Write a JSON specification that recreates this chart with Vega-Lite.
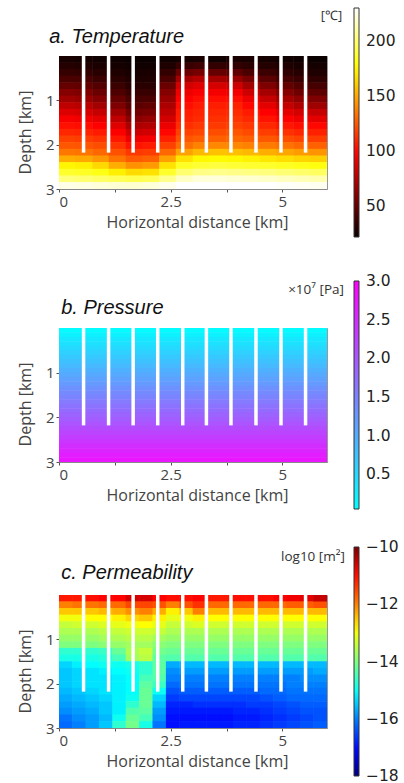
{"$schema":"https://vega.github.io/schema/vega-lite/v6.json","padding":{"left":16,"top":7,"right":0,"bottom":0},"background":"white","spacing":35,"resolve":{"scale":{"color":"independent"},"legend":{"color":"independent"}},
"datasets":{
"wells":[{"x":0.55,"y":0,"y2":2.18},{"x":1.11,"y":0,"y2":2.18},{"x":1.66,"y":0,"y2":2.18},{"x":2.21,"y":0,"y2":2.18},{"x":2.77,"y":0,"y2":2.18},{"x":3.3,"y":0,"y2":2.18},{"x":3.85,"y":0,"y2":2.18},{"x":4.41,"y":0,"y2":2.18},{"x":4.97,"y":0,"y2":2.18},{"x":5.52,"y":0,"y2":2.18}],
"temp":[
{"x":0.19,"y":0.075,"v":26},{"x":0.19,"y":0.225,"v":30},{"x":0.19,"y":0.375,"v":35},{"x":0.19,"y":0.525,"v":42},{"x":0.19,"y":0.675,"v":50},{"x":0.19,"y":0.825,"v":60},{"x":0.19,"y":0.975,"v":68},{"x":0.19,"y":1.125,"v":78},{"x":0.19,"y":1.275,"v":87},{"x":0.19,"y":1.425,"v":96},{"x":0.19,"y":1.575,"v":103},{"x":0.19,"y":1.725,"v":110},{"x":0.19,"y":1.875,"v":118},{"x":0.19,"y":2.025,"v":125},{"x":0.19,"y":2.175,"v":135},{"x":0.19,"y":2.325,"v":152},{"x":0.19,"y":2.475,"v":174},{"x":0.19,"y":2.625,"v":186},{"x":0.19,"y":2.775,"v":202},{"x":0.19,"y":2.925,"v":225},
{"x":0.56,"y":0.075,"v":25},{"x":0.56,"y":0.225,"v":29},{"x":0.56,"y":0.375,"v":34},{"x":0.56,"y":0.525,"v":41},{"x":0.56,"y":0.675,"v":49},{"x":0.56,"y":0.825,"v":58},{"x":0.56,"y":0.975,"v":66},{"x":0.56,"y":1.125,"v":76},{"x":0.56,"y":1.275,"v":85},{"x":0.56,"y":1.425,"v":94},{"x":0.56,"y":1.575,"v":102},{"x":0.56,"y":1.725,"v":109},{"x":0.56,"y":1.875,"v":117},{"x":0.56,"y":2.025,"v":124},{"x":0.56,"y":2.175,"v":134},{"x":0.56,"y":2.325,"v":150},{"x":0.56,"y":2.475,"v":172},{"x":0.56,"y":2.625,"v":185},{"x":0.56,"y":2.775,"v":200},{"x":0.56,"y":2.925,"v":224},
{"x":0.94,"y":0.075,"v":24},{"x":0.94,"y":0.225,"v":27},{"x":0.94,"y":0.375,"v":31},{"x":0.94,"y":0.525,"v":37},{"x":0.94,"y":0.675,"v":44},{"x":0.94,"y":0.825,"v":52},{"x":0.94,"y":0.975,"v":60},{"x":0.94,"y":1.125,"v":70},{"x":0.94,"y":1.275,"v":80},{"x":0.94,"y":1.425,"v":90},{"x":0.94,"y":1.575,"v":98},{"x":0.94,"y":1.725,"v":106},{"x":0.94,"y":1.875,"v":114},{"x":0.94,"y":2.025,"v":122},{"x":0.94,"y":2.175,"v":130},{"x":0.94,"y":2.325,"v":145},{"x":0.94,"y":2.475,"v":165},{"x":0.94,"y":2.625,"v":181},{"x":0.94,"y":2.775,"v":198},{"x":0.94,"y":2.925,"v":222},
{"x":1.31,"y":0.075,"v":23},{"x":1.31,"y":0.225,"v":25},{"x":1.31,"y":0.375,"v":28},{"x":1.31,"y":0.525,"v":32},{"x":1.31,"y":0.675,"v":37},{"x":1.31,"y":0.825,"v":43},{"x":1.31,"y":0.975,"v":50},{"x":1.31,"y":1.125,"v":58},{"x":1.31,"y":1.275,"v":68},{"x":1.31,"y":1.425,"v":78},{"x":1.31,"y":1.575,"v":88},{"x":1.31,"y":1.725,"v":97},{"x":1.31,"y":1.875,"v":105},{"x":1.31,"y":2.025,"v":114},{"x":1.31,"y":2.175,"v":123},{"x":1.31,"y":2.325,"v":134},{"x":1.31,"y":2.475,"v":152},{"x":1.31,"y":2.625,"v":172},{"x":1.31,"y":2.775,"v":195},{"x":1.31,"y":2.925,"v":221},
{"x":1.69,"y":0.075,"v":22},{"x":1.69,"y":0.225,"v":24},{"x":1.69,"y":0.375,"v":26},{"x":1.69,"y":0.525,"v":28},{"x":1.69,"y":0.675,"v":31},{"x":1.69,"y":0.825,"v":36},{"x":1.69,"y":0.975,"v":41},{"x":1.69,"y":1.125,"v":47},{"x":1.69,"y":1.275,"v":54},{"x":1.69,"y":1.425,"v":62},{"x":1.69,"y":1.575,"v":72},{"x":1.69,"y":1.725,"v":82},{"x":1.69,"y":1.875,"v":93},{"x":1.69,"y":2.025,"v":104},{"x":1.69,"y":2.175,"v":115},{"x":1.69,"y":2.325,"v":126},{"x":1.69,"y":2.475,"v":143},{"x":1.69,"y":2.625,"v":166},{"x":1.69,"y":2.775,"v":193},{"x":1.69,"y":2.925,"v":220},
{"x":2.06,"y":0.075,"v":22},{"x":2.06,"y":0.225,"v":24},{"x":2.06,"y":0.375,"v":26},{"x":2.06,"y":0.525,"v":28},{"x":2.06,"y":0.675,"v":31},{"x":2.06,"y":0.825,"v":36},{"x":2.06,"y":0.975,"v":42},{"x":2.06,"y":1.125,"v":49},{"x":2.06,"y":1.275,"v":56},{"x":2.06,"y":1.425,"v":65},{"x":2.06,"y":1.575,"v":74},{"x":2.06,"y":1.725,"v":84},{"x":2.06,"y":1.875,"v":95},{"x":2.06,"y":2.025,"v":106},{"x":2.06,"y":2.175,"v":117},{"x":2.06,"y":2.325,"v":128},{"x":2.06,"y":2.475,"v":146},{"x":2.06,"y":2.625,"v":168},{"x":2.06,"y":2.775,"v":195},{"x":2.06,"y":2.925,"v":222},
{"x":2.44,"y":0.075,"v":24},{"x":2.44,"y":0.225,"v":28},{"x":2.44,"y":0.375,"v":34},{"x":2.44,"y":0.525,"v":42},{"x":2.44,"y":0.675,"v":52},{"x":2.44,"y":0.825,"v":60},{"x":2.44,"y":0.975,"v":66},{"x":2.44,"y":1.125,"v":72},{"x":2.44,"y":1.275,"v":78},{"x":2.44,"y":1.425,"v":84},{"x":2.44,"y":1.575,"v":92},{"x":2.44,"y":1.725,"v":100},{"x":2.44,"y":1.875,"v":108},{"x":2.44,"y":2.025,"v":118},{"x":2.44,"y":2.175,"v":130},{"x":2.44,"y":2.325,"v":148},{"x":2.44,"y":2.475,"v":168},{"x":2.44,"y":2.625,"v":186},{"x":2.44,"y":2.775,"v":206},{"x":2.44,"y":2.925,"v":226},
{"x":2.81,"y":0.075,"v":25},{"x":2.81,"y":0.225,"v":36},{"x":2.81,"y":0.375,"v":52},{"x":2.81,"y":0.525,"v":70},{"x":2.81,"y":0.675,"v":84},{"x":2.81,"y":0.825,"v":92},{"x":2.81,"y":0.975,"v":98},{"x":2.81,"y":1.125,"v":102},{"x":2.81,"y":1.275,"v":106},{"x":2.81,"y":1.425,"v":108},{"x":2.81,"y":1.575,"v":112},{"x":2.81,"y":1.725,"v":118},{"x":2.81,"y":1.875,"v":124},{"x":2.81,"y":2.025,"v":132},{"x":2.81,"y":2.175,"v":148},{"x":2.81,"y":2.325,"v":168},{"x":2.81,"y":2.475,"v":185},{"x":2.81,"y":2.625,"v":200},{"x":2.81,"y":2.775,"v":218},{"x":2.81,"y":2.925,"v":230},
{"x":3.19,"y":0.075,"v":26},{"x":3.19,"y":0.225,"v":38},{"x":3.19,"y":0.375,"v":55},{"x":3.19,"y":0.525,"v":75},{"x":3.19,"y":0.675,"v":88},{"x":3.19,"y":0.825,"v":96},{"x":3.19,"y":0.975,"v":102},{"x":3.19,"y":1.125,"v":106},{"x":3.19,"y":1.275,"v":109},{"x":3.19,"y":1.425,"v":111},{"x":3.19,"y":1.575,"v":115},{"x":3.19,"y":1.725,"v":120},{"x":3.19,"y":1.875,"v":127},{"x":3.19,"y":2.025,"v":138},{"x":3.19,"y":2.175,"v":155},{"x":3.19,"y":2.325,"v":175},{"x":3.19,"y":2.475,"v":188},{"x":3.19,"y":2.625,"v":205},{"x":3.19,"y":2.775,"v":222},{"x":3.19,"y":2.925,"v":230},
{"x":3.56,"y":0.075,"v":24},{"x":3.56,"y":0.225,"v":34},{"x":3.56,"y":0.375,"v":50},{"x":3.56,"y":0.525,"v":70},{"x":3.56,"y":0.675,"v":85},{"x":3.56,"y":0.825,"v":95},{"x":3.56,"y":0.975,"v":102},{"x":3.56,"y":1.125,"v":107},{"x":3.56,"y":1.275,"v":110},{"x":3.56,"y":1.425,"v":113},{"x":3.56,"y":1.575,"v":116},{"x":3.56,"y":1.725,"v":122},{"x":3.56,"y":1.875,"v":128},{"x":3.56,"y":2.025,"v":140},{"x":3.56,"y":2.175,"v":158},{"x":3.56,"y":2.325,"v":176},{"x":3.56,"y":2.475,"v":190},{"x":3.56,"y":2.625,"v":206},{"x":3.56,"y":2.775,"v":222},{"x":3.56,"y":2.925,"v":230},
{"x":3.94,"y":0.075,"v":26},{"x":3.94,"y":0.225,"v":34},{"x":3.94,"y":0.375,"v":48},{"x":3.94,"y":0.525,"v":66},{"x":3.94,"y":0.675,"v":82},{"x":3.94,"y":0.825,"v":94},{"x":3.94,"y":0.975,"v":102},{"x":3.94,"y":1.125,"v":108},{"x":3.94,"y":1.275,"v":111},{"x":3.94,"y":1.425,"v":114},{"x":3.94,"y":1.575,"v":118},{"x":3.94,"y":1.725,"v":124},{"x":3.94,"y":1.875,"v":130},{"x":3.94,"y":2.025,"v":140},{"x":3.94,"y":2.175,"v":157},{"x":3.94,"y":2.325,"v":175},{"x":3.94,"y":2.475,"v":188},{"x":3.94,"y":2.625,"v":205},{"x":3.94,"y":2.775,"v":221},{"x":3.94,"y":2.925,"v":230},
{"x":4.31,"y":0.075,"v":26},{"x":4.31,"y":0.225,"v":32},{"x":4.31,"y":0.375,"v":42},{"x":4.31,"y":0.525,"v":56},{"x":4.31,"y":0.675,"v":70},{"x":4.31,"y":0.825,"v":82},{"x":4.31,"y":0.975,"v":92},{"x":4.31,"y":1.125,"v":100},{"x":4.31,"y":1.275,"v":106},{"x":4.31,"y":1.425,"v":110},{"x":4.31,"y":1.575,"v":115},{"x":4.31,"y":1.725,"v":121},{"x":4.31,"y":1.875,"v":128},{"x":4.31,"y":2.025,"v":138},{"x":4.31,"y":2.175,"v":155},{"x":4.31,"y":2.325,"v":173},{"x":4.31,"y":2.475,"v":187},{"x":4.31,"y":2.625,"v":204},{"x":4.31,"y":2.775,"v":220},{"x":4.31,"y":2.925,"v":230},
{"x":4.69,"y":0.075,"v":25},{"x":4.69,"y":0.225,"v":30},{"x":4.69,"y":0.375,"v":37},{"x":4.69,"y":0.525,"v":47},{"x":4.69,"y":0.675,"v":58},{"x":4.69,"y":0.825,"v":70},{"x":4.69,"y":0.975,"v":80},{"x":4.69,"y":1.125,"v":90},{"x":4.69,"y":1.275,"v":98},{"x":4.69,"y":1.425,"v":104},{"x":4.69,"y":1.575,"v":110},{"x":4.69,"y":1.725,"v":117},{"x":4.69,"y":1.875,"v":125},{"x":4.69,"y":2.025,"v":136},{"x":4.69,"y":2.175,"v":152},{"x":4.69,"y":2.325,"v":170},{"x":4.69,"y":2.475,"v":186},{"x":4.69,"y":2.625,"v":203},{"x":4.69,"y":2.775,"v":219},{"x":4.69,"y":2.925,"v":230},
{"x":5.06,"y":0.075,"v":24},{"x":5.06,"y":0.225,"v":28},{"x":5.06,"y":0.375,"v":33},{"x":5.06,"y":0.525,"v":40},{"x":5.06,"y":0.675,"v":50},{"x":5.06,"y":0.825,"v":60},{"x":5.06,"y":0.975,"v":70},{"x":5.06,"y":1.125,"v":80},{"x":5.06,"y":1.275,"v":90},{"x":5.06,"y":1.425,"v":98},{"x":5.06,"y":1.575,"v":105},{"x":5.06,"y":1.725,"v":113},{"x":5.06,"y":1.875,"v":122},{"x":5.06,"y":2.025,"v":133},{"x":5.06,"y":2.175,"v":149},{"x":5.06,"y":2.325,"v":167},{"x":5.06,"y":2.475,"v":184},{"x":5.06,"y":2.625,"v":201},{"x":5.06,"y":2.775,"v":217},{"x":5.06,"y":2.925,"v":229},
{"x":5.44,"y":0.075,"v":23},{"x":5.44,"y":0.225,"v":26},{"x":5.44,"y":0.375,"v":30},{"x":5.44,"y":0.525,"v":36},{"x":5.44,"y":0.675,"v":44},{"x":5.44,"y":0.825,"v":53},{"x":5.44,"y":0.975,"v":63},{"x":5.44,"y":1.125,"v":73},{"x":5.44,"y":1.275,"v":84},{"x":5.44,"y":1.425,"v":93},{"x":5.44,"y":1.575,"v":102},{"x":5.44,"y":1.725,"v":110},{"x":5.44,"y":1.875,"v":119},{"x":5.44,"y":2.025,"v":130},{"x":5.44,"y":2.175,"v":146},{"x":5.44,"y":2.325,"v":164},{"x":5.44,"y":2.475,"v":182},{"x":5.44,"y":2.625,"v":199},{"x":5.44,"y":2.775,"v":215},{"x":5.44,"y":2.925,"v":228},
{"x":5.81,"y":0.075,"v":22},{"x":5.81,"y":0.225,"v":25},{"x":5.81,"y":0.375,"v":28},{"x":5.81,"y":0.525,"v":33},{"x":5.81,"y":0.675,"v":40},{"x":5.81,"y":0.825,"v":48},{"x":5.81,"y":0.975,"v":58},{"x":5.81,"y":1.125,"v":68},{"x":5.81,"y":1.275,"v":80},{"x":5.81,"y":1.425,"v":90},{"x":5.81,"y":1.575,"v":100},{"x":5.81,"y":1.725,"v":108},{"x":5.81,"y":1.875,"v":117},{"x":5.81,"y":2.025,"v":128},{"x":5.81,"y":2.175,"v":144},{"x":5.81,"y":2.325,"v":162},{"x":5.81,"y":2.475,"v":180},{"x":5.81,"y":2.625,"v":197},{"x":5.81,"y":2.775,"v":213},{"x":5.81,"y":2.925,"v":227}
],
"pres":[{"x":3,"y":0.05,"v":0.1},{"x":3,"y":0.15,"v":0.2},{"x":3,"y":0.25,"v":0.3},{"x":3,"y":0.35,"v":0.39},{"x":3,"y":0.45,"v":0.48},{"x":3,"y":0.55,"v":0.58},{"x":3,"y":0.65,"v":0.67},{"x":3,"y":0.75,"v":0.76},{"x":3,"y":0.85,"v":0.86},{"x":3,"y":0.95,"v":0.95},{"x":3,"y":1.05,"v":1.04},{"x":3,"y":1.15,"v":1.13},{"x":3,"y":1.25,"v":1.22},{"x":3,"y":1.35,"v":1.31},{"x":3,"y":1.45,"v":1.4},{"x":3,"y":1.55,"v":1.49},{"x":3,"y":1.65,"v":1.58},{"x":3,"y":1.75,"v":1.67},{"x":3,"y":1.85,"v":1.76},{"x":3,"y":1.95,"v":1.85},{"x":3,"y":2.05,"v":1.94},{"x":3,"y":2.15,"v":2.03},{"x":3,"y":2.25,"v":2.12},{"x":3,"y":2.35,"v":2.21},{"x":3,"y":2.45,"v":2.3},{"x":3,"y":2.55,"v":2.39},{"x":3,"y":2.65,"v":2.48},{"x":3,"y":2.75,"v":2.57},{"x":3,"y":2.85,"v":2.66},{"x":3,"y":2.95,"v":2.75}],
"perm":[
{"x":0.15,"y":0.075,"v":-11.1},{"x":0.15,"y":0.225,"v":-12},{"x":0.15,"y":0.375,"v":-12.5},{"x":0.15,"y":0.525,"v":-13},{"x":0.15,"y":0.675,"v":-13.4},{"x":0.15,"y":0.825,"v":-13.6},{"x":0.15,"y":0.975,"v":-13.8},{"x":0.15,"y":1.125,"v":-14},{"x":0.15,"y":1.275,"v":-14.7},{"x":0.15,"y":1.425,"v":-14.9},{"x":0.15,"y":1.575,"v":-15.4},{"x":0.15,"y":1.725,"v":-15.5},{"x":0.15,"y":1.875,"v":-15.5},{"x":0.15,"y":2.025,"v":-15.5},{"x":0.15,"y":2.175,"v":-15.6},{"x":0.15,"y":2.325,"v":-15.7},{"x":0.15,"y":2.475,"v":-15.8},{"x":0.15,"y":2.625,"v":-15.9},{"x":0.15,"y":2.775,"v":-16.1},{"x":0.15,"y":2.925,"v":-16.2},
{"x":0.45,"y":0.075,"v":-11.1},{"x":0.45,"y":0.225,"v":-11.9},{"x":0.45,"y":0.375,"v":-12.5},{"x":0.45,"y":0.525,"v":-13},{"x":0.45,"y":0.675,"v":-13.3},{"x":0.45,"y":0.825,"v":-13.6},{"x":0.45,"y":0.975,"v":-13.8},{"x":0.45,"y":1.125,"v":-14},{"x":0.45,"y":1.275,"v":-14.7},{"x":0.45,"y":1.425,"v":-14.9},{"x":0.45,"y":1.575,"v":-15.2},{"x":0.45,"y":1.725,"v":-15.4},{"x":0.45,"y":1.875,"v":-15.4},{"x":0.45,"y":2.025,"v":-15.4},{"x":0.45,"y":2.175,"v":-15.5},{"x":0.45,"y":2.325,"v":-15.6},{"x":0.45,"y":2.475,"v":-15.7},{"x":0.45,"y":2.625,"v":-15.8},{"x":0.45,"y":2.775,"v":-15.9},{"x":0.45,"y":2.925,"v":-16},
{"x":0.75,"y":0.075,"v":-11},{"x":0.75,"y":0.225,"v":-11.9},{"x":0.75,"y":0.375,"v":-12.5},{"x":0.75,"y":0.525,"v":-12.9},{"x":0.75,"y":0.675,"v":-13.3},{"x":0.75,"y":0.825,"v":-13.6},{"x":0.75,"y":0.975,"v":-13.8},{"x":0.75,"y":1.125,"v":-14},{"x":0.75,"y":1.275,"v":-14.7},{"x":0.75,"y":1.425,"v":-14.9},{"x":0.75,"y":1.575,"v":-15.1},{"x":0.75,"y":1.725,"v":-15.3},{"x":0.75,"y":1.875,"v":-15.3},{"x":0.75,"y":2.025,"v":-15.3},{"x":0.75,"y":2.175,"v":-15.4},{"x":0.75,"y":2.325,"v":-15.5},{"x":0.75,"y":2.475,"v":-15.6},{"x":0.75,"y":2.625,"v":-15.7},{"x":0.75,"y":2.775,"v":-15.8},{"x":0.75,"y":2.925,"v":-15.8},
{"x":1.05,"y":0.075,"v":-10.9},{"x":1.05,"y":0.225,"v":-11.8},{"x":1.05,"y":0.375,"v":-12.4},{"x":1.05,"y":0.525,"v":-12.9},{"x":1.05,"y":0.675,"v":-13.2},{"x":1.05,"y":0.825,"v":-13.5},{"x":1.05,"y":0.975,"v":-13.7},{"x":1.05,"y":1.125,"v":-13.9},{"x":1.05,"y":1.275,"v":-14.6},{"x":1.05,"y":1.425,"v":-14.8},{"x":1.05,"y":1.575,"v":-15},{"x":1.05,"y":1.725,"v":-15.2},{"x":1.05,"y":1.875,"v":-15.3},{"x":1.05,"y":2.025,"v":-15.3},{"x":1.05,"y":2.175,"v":-15.3},{"x":1.05,"y":2.325,"v":-15.4},{"x":1.05,"y":2.475,"v":-15.5},{"x":1.05,"y":2.625,"v":-15.5},{"x":1.05,"y":2.775,"v":-15.6},{"x":1.05,"y":2.925,"v":-15.5},
{"x":1.35,"y":0.075,"v":-10.9},{"x":1.35,"y":0.225,"v":-11.8},{"x":1.35,"y":0.375,"v":-12.3},{"x":1.35,"y":0.525,"v":-12.8},{"x":1.35,"y":0.675,"v":-13.1},{"x":1.35,"y":0.825,"v":-13.4},{"x":1.35,"y":0.975,"v":-13.6},{"x":1.35,"y":1.125,"v":-13.8},{"x":1.35,"y":1.275,"v":-14.2},{"x":1.35,"y":1.425,"v":-14.5},{"x":1.35,"y":1.575,"v":-15},{"x":1.35,"y":1.725,"v":-15.1},{"x":1.35,"y":1.875,"v":-15.2},{"x":1.35,"y":2.025,"v":-15.2},{"x":1.35,"y":2.175,"v":-15.2},{"x":1.35,"y":2.325,"v":-15.2},{"x":1.35,"y":2.475,"v":-15.2},{"x":1.35,"y":2.625,"v":-15.2},{"x":1.35,"y":2.775,"v":-15},{"x":1.35,"y":2.925,"v":-14.7},
{"x":1.65,"y":0.075,"v":-10.6},{"x":1.65,"y":0.225,"v":-11.5},{"x":1.65,"y":0.375,"v":-12.1},{"x":1.65,"y":0.525,"v":-12.6},{"x":1.65,"y":0.675,"v":-13},{"x":1.65,"y":0.825,"v":-13.3},{"x":1.65,"y":0.975,"v":-13.5},{"x":1.65,"y":1.125,"v":-13.7},{"x":1.65,"y":1.275,"v":-13.6},{"x":1.65,"y":1.425,"v":-13.7},{"x":1.65,"y":1.575,"v":-14.9},{"x":1.65,"y":1.725,"v":-15},{"x":1.65,"y":1.875,"v":-15.1},{"x":1.65,"y":2.025,"v":-15.1},{"x":1.65,"y":2.175,"v":-15.1},{"x":1.65,"y":2.325,"v":-15},{"x":1.65,"y":2.475,"v":-14.7},{"x":1.65,"y":2.625,"v":-14.4},{"x":1.65,"y":2.775,"v":-14.2},{"x":1.65,"y":2.925,"v":-14.1},
{"x":1.95,"y":0.075,"v":-10.6},{"x":1.95,"y":0.225,"v":-11.5},{"x":1.95,"y":0.375,"v":-12},{"x":1.95,"y":0.525,"v":-12.5},{"x":1.95,"y":0.675,"v":-12.9},{"x":1.95,"y":0.825,"v":-13.3},{"x":1.95,"y":0.975,"v":-13.5},{"x":1.95,"y":1.125,"v":-13.7},{"x":1.95,"y":1.275,"v":-13.4},{"x":1.95,"y":1.425,"v":-13.5},{"x":1.95,"y":1.575,"v":-14.7},{"x":1.95,"y":1.725,"v":-14.7},{"x":1.95,"y":1.875,"v":-14.5},{"x":1.95,"y":2.025,"v":-14.3},{"x":1.95,"y":2.175,"v":-14.2},{"x":1.95,"y":2.325,"v":-14.2},{"x":1.95,"y":2.475,"v":-14.2},{"x":1.95,"y":2.625,"v":-14.3},{"x":1.95,"y":2.775,"v":-14.5},{"x":1.95,"y":2.925,"v":-14.9},
{"x":2.25,"y":0.075,"v":-10.9},{"x":2.25,"y":0.225,"v":-11.6},{"x":2.25,"y":0.375,"v":-12.3},{"x":2.25,"y":0.525,"v":-12.8},{"x":2.25,"y":0.675,"v":-13.1},{"x":2.25,"y":0.825,"v":-13.4},{"x":2.25,"y":0.975,"v":-13.7},{"x":2.25,"y":1.125,"v":-13.9},{"x":2.25,"y":1.275,"v":-14.1},{"x":2.25,"y":1.425,"v":-14.3},{"x":2.25,"y":1.575,"v":-14.3},{"x":2.25,"y":1.725,"v":-14.3},{"x":2.25,"y":1.875,"v":-14.4},{"x":2.25,"y":2.025,"v":-14.6},{"x":2.25,"y":2.175,"v":-15},{"x":2.25,"y":2.325,"v":-15.4},{"x":2.25,"y":2.475,"v":-15.6},{"x":2.25,"y":2.625,"v":-15.8},{"x":2.25,"y":2.775,"v":-15.9},{"x":2.25,"y":2.925,"v":-16.1},
{"x":2.55,"y":0.075,"v":-11},{"x":2.55,"y":0.225,"v":-12},{"x":2.55,"y":0.375,"v":-12.8},{"x":2.55,"y":0.525,"v":-13.1},{"x":2.55,"y":0.675,"v":-13.4},{"x":2.55,"y":0.825,"v":-13.6},{"x":2.55,"y":0.975,"v":-13.8},{"x":2.55,"y":1.125,"v":-14},{"x":2.55,"y":1.275,"v":-14.2},{"x":2.55,"y":1.425,"v":-14.4},{"x":2.55,"y":1.575,"v":-15.7},{"x":2.55,"y":1.725,"v":-15.9},{"x":2.55,"y":1.875,"v":-16},{"x":2.55,"y":2.025,"v":-16.2},{"x":2.55,"y":2.175,"v":-16.4},{"x":2.55,"y":2.325,"v":-16.6},{"x":2.55,"y":2.475,"v":-16.8},{"x":2.55,"y":2.625,"v":-16.9},{"x":2.55,"y":2.775,"v":-17},{"x":2.55,"y":2.925,"v":-17},
{"x":2.85,"y":0.075,"v":-11},{"x":2.85,"y":0.225,"v":-11.6},{"x":2.85,"y":0.375,"v":-12.5},{"x":2.85,"y":0.525,"v":-13},{"x":2.85,"y":0.675,"v":-13.3},{"x":2.85,"y":0.825,"v":-13.6},{"x":2.85,"y":0.975,"v":-13.8},{"x":2.85,"y":1.125,"v":-14},{"x":2.85,"y":1.275,"v":-14.2},{"x":2.85,"y":1.425,"v":-14.4},{"x":2.85,"y":1.575,"v":-15.6},{"x":2.85,"y":1.725,"v":-15.8},{"x":2.85,"y":1.875,"v":-16},{"x":2.85,"y":2.025,"v":-16.1},{"x":2.85,"y":2.175,"v":-16.3},{"x":2.85,"y":2.325,"v":-16.5},{"x":2.85,"y":2.475,"v":-16.8},{"x":2.85,"y":2.625,"v":-16.9},{"x":2.85,"y":2.775,"v":-17},{"x":2.85,"y":2.925,"v":-16.9},
{"x":3.15,"y":0.075,"v":-10.9},{"x":3.15,"y":0.225,"v":-11.3},{"x":3.15,"y":0.375,"v":-12},{"x":3.15,"y":0.525,"v":-12.8},{"x":3.15,"y":0.675,"v":-13.2},{"x":3.15,"y":0.825,"v":-13.6},{"x":3.15,"y":0.975,"v":-13.8},{"x":3.15,"y":1.125,"v":-14},{"x":3.15,"y":1.275,"v":-14.2},{"x":3.15,"y":1.425,"v":-14.4},{"x":3.15,"y":1.575,"v":-15.6},{"x":3.15,"y":1.725,"v":-15.8},{"x":3.15,"y":1.875,"v":-16},{"x":3.15,"y":2.025,"v":-16.1},{"x":3.15,"y":2.175,"v":-16.3},{"x":3.15,"y":2.325,"v":-16.5},{"x":3.15,"y":2.475,"v":-16.7},{"x":3.15,"y":2.625,"v":-16.9},{"x":3.15,"y":2.775,"v":-17},{"x":3.15,"y":2.925,"v":-16.9},
{"x":3.45,"y":0.075,"v":-11.1},{"x":3.45,"y":0.225,"v":-11.8},{"x":3.45,"y":0.375,"v":-12.4},{"x":3.45,"y":0.525,"v":-12.9},{"x":3.45,"y":0.675,"v":-13.3},{"x":3.45,"y":0.825,"v":-13.6},{"x":3.45,"y":0.975,"v":-13.8},{"x":3.45,"y":1.125,"v":-14},{"x":3.45,"y":1.275,"v":-14.2},{"x":3.45,"y":1.425,"v":-14.4},{"x":3.45,"y":1.575,"v":-15.6},{"x":3.45,"y":1.725,"v":-15.8},{"x":3.45,"y":1.875,"v":-16},{"x":3.45,"y":2.025,"v":-16.1},{"x":3.45,"y":2.175,"v":-16.3},{"x":3.45,"y":2.325,"v":-16.5},{"x":3.45,"y":2.475,"v":-16.7},{"x":3.45,"y":2.625,"v":-16.9},{"x":3.45,"y":2.775,"v":-17},{"x":3.45,"y":2.925,"v":-16.9},
{"x":3.75,"y":0.075,"v":-11.1},{"x":3.75,"y":0.225,"v":-11.8},{"x":3.75,"y":0.375,"v":-12.4},{"x":3.75,"y":0.525,"v":-12.9},{"x":3.75,"y":0.675,"v":-13.3},{"x":3.75,"y":0.825,"v":-13.6},{"x":3.75,"y":0.975,"v":-13.8},{"x":3.75,"y":1.125,"v":-14},{"x":3.75,"y":1.275,"v":-14.2},{"x":3.75,"y":1.425,"v":-14.4},{"x":3.75,"y":1.575,"v":-15.6},{"x":3.75,"y":1.725,"v":-15.8},{"x":3.75,"y":1.875,"v":-16},{"x":3.75,"y":2.025,"v":-16.1},{"x":3.75,"y":2.175,"v":-16.3},{"x":3.75,"y":2.325,"v":-16.5},{"x":3.75,"y":2.475,"v":-16.7},{"x":3.75,"y":2.625,"v":-16.9},{"x":3.75,"y":2.775,"v":-17},{"x":3.75,"y":2.925,"v":-16.9},
{"x":4.05,"y":0.075,"v":-11},{"x":4.05,"y":0.225,"v":-11.8},{"x":4.05,"y":0.375,"v":-12.4},{"x":4.05,"y":0.525,"v":-12.9},{"x":4.05,"y":0.675,"v":-13.3},{"x":4.05,"y":0.825,"v":-13.6},{"x":4.05,"y":0.975,"v":-13.8},{"x":4.05,"y":1.125,"v":-14},{"x":4.05,"y":1.275,"v":-14.2},{"x":4.05,"y":1.425,"v":-14.4},{"x":4.05,"y":1.575,"v":-15.6},{"x":4.05,"y":1.725,"v":-15.8},{"x":4.05,"y":1.875,"v":-16},{"x":4.05,"y":2.025,"v":-16.1},{"x":4.05,"y":2.175,"v":-16.3},{"x":4.05,"y":2.325,"v":-16.5},{"x":4.05,"y":2.475,"v":-16.7},{"x":4.05,"y":2.625,"v":-16.8},{"x":4.05,"y":2.775,"v":-16.9},{"x":4.05,"y":2.925,"v":-16.8},
{"x":4.35,"y":0.075,"v":-11},{"x":4.35,"y":0.225,"v":-11.8},{"x":4.35,"y":0.375,"v":-12.4},{"x":4.35,"y":0.525,"v":-12.9},{"x":4.35,"y":0.675,"v":-13.3},{"x":4.35,"y":0.825,"v":-13.6},{"x":4.35,"y":0.975,"v":-13.8},{"x":4.35,"y":1.125,"v":-14},{"x":4.35,"y":1.275,"v":-14.2},{"x":4.35,"y":1.425,"v":-14.4},{"x":4.35,"y":1.575,"v":-15.6},{"x":4.35,"y":1.725,"v":-15.8},{"x":4.35,"y":1.875,"v":-16},{"x":4.35,"y":2.025,"v":-16.1},{"x":4.35,"y":2.175,"v":-16.3},{"x":4.35,"y":2.325,"v":-16.5},{"x":4.35,"y":2.475,"v":-16.6},{"x":4.35,"y":2.625,"v":-16.8},{"x":4.35,"y":2.775,"v":-16.9},{"x":4.35,"y":2.925,"v":-16.8},
{"x":4.65,"y":0.075,"v":-11},{"x":4.65,"y":0.225,"v":-11.8},{"x":4.65,"y":0.375,"v":-12.4},{"x":4.65,"y":0.525,"v":-12.9},{"x":4.65,"y":0.675,"v":-13.3},{"x":4.65,"y":0.825,"v":-13.6},{"x":4.65,"y":0.975,"v":-13.8},{"x":4.65,"y":1.125,"v":-14},{"x":4.65,"y":1.275,"v":-14.2},{"x":4.65,"y":1.425,"v":-14.4},{"x":4.65,"y":1.575,"v":-15.6},{"x":4.65,"y":1.725,"v":-15.8},{"x":4.65,"y":1.875,"v":-16},{"x":4.65,"y":2.025,"v":-16.1},{"x":4.65,"y":2.175,"v":-16.2},{"x":4.65,"y":2.325,"v":-16.4},{"x":4.65,"y":2.475,"v":-16.6},{"x":4.65,"y":2.625,"v":-16.7},{"x":4.65,"y":2.775,"v":-16.8},{"x":4.65,"y":2.925,"v":-16.7},
{"x":4.95,"y":0.075,"v":-10.9},{"x":4.95,"y":0.225,"v":-11.8},{"x":4.95,"y":0.375,"v":-12.4},{"x":4.95,"y":0.525,"v":-12.9},{"x":4.95,"y":0.675,"v":-13.3},{"x":4.95,"y":0.825,"v":-13.6},{"x":4.95,"y":0.975,"v":-13.8},{"x":4.95,"y":1.125,"v":-14},{"x":4.95,"y":1.275,"v":-14.2},{"x":4.95,"y":1.425,"v":-14.4},{"x":4.95,"y":1.575,"v":-15.6},{"x":4.95,"y":1.725,"v":-15.8},{"x":4.95,"y":1.875,"v":-16},{"x":4.95,"y":2.025,"v":-16.1},{"x":4.95,"y":2.175,"v":-16.2},{"x":4.95,"y":2.325,"v":-16.3},{"x":4.95,"y":2.475,"v":-16.5},{"x":4.95,"y":2.625,"v":-16.6},{"x":4.95,"y":2.775,"v":-16.7},{"x":4.95,"y":2.925,"v":-16.6},
{"x":5.25,"y":0.075,"v":-10.8},{"x":5.25,"y":0.225,"v":-11.7},{"x":5.25,"y":0.375,"v":-12.4},{"x":5.25,"y":0.525,"v":-12.9},{"x":5.25,"y":0.675,"v":-13.3},{"x":5.25,"y":0.825,"v":-13.6},{"x":5.25,"y":0.975,"v":-13.8},{"x":5.25,"y":1.125,"v":-14},{"x":5.25,"y":1.275,"v":-14.2},{"x":5.25,"y":1.425,"v":-14.4},{"x":5.25,"y":1.575,"v":-15.6},{"x":5.25,"y":1.725,"v":-15.8},{"x":5.25,"y":1.875,"v":-16},{"x":5.25,"y":2.025,"v":-16},{"x":5.25,"y":2.175,"v":-16.1},{"x":5.25,"y":2.325,"v":-16.2},{"x":5.25,"y":2.475,"v":-16.4},{"x":5.25,"y":2.625,"v":-16.5},{"x":5.25,"y":2.775,"v":-16.6},{"x":5.25,"y":2.925,"v":-16.5},
{"x":5.55,"y":0.075,"v":-10.7},{"x":5.55,"y":0.225,"v":-11.7},{"x":5.55,"y":0.375,"v":-12.4},{"x":5.55,"y":0.525,"v":-12.9},{"x":5.55,"y":0.675,"v":-13.3},{"x":5.55,"y":0.825,"v":-13.6},{"x":5.55,"y":0.975,"v":-13.8},{"x":5.55,"y":1.125,"v":-14},{"x":5.55,"y":1.275,"v":-14.2},{"x":5.55,"y":1.425,"v":-14.4},{"x":5.55,"y":1.575,"v":-15.6},{"x":5.55,"y":1.725,"v":-15.8},{"x":5.55,"y":1.875,"v":-15.9},{"x":5.55,"y":2.025,"v":-16},{"x":5.55,"y":2.175,"v":-16.1},{"x":5.55,"y":2.325,"v":-16.2},{"x":5.55,"y":2.475,"v":-16.3},{"x":5.55,"y":2.625,"v":-16.4},{"x":5.55,"y":2.775,"v":-16.5},{"x":5.55,"y":2.925,"v":-16.4},
{"x":5.85,"y":0.075,"v":-10.5},{"x":5.85,"y":0.225,"v":-11.6},{"x":5.85,"y":0.375,"v":-12.4},{"x":5.85,"y":0.525,"v":-12.9},{"x":5.85,"y":0.675,"v":-13.3},{"x":5.85,"y":0.825,"v":-13.6},{"x":5.85,"y":0.975,"v":-13.8},{"x":5.85,"y":1.125,"v":-14},{"x":5.85,"y":1.275,"v":-14.2},{"x":5.85,"y":1.425,"v":-14.4},{"x":5.85,"y":1.575,"v":-15.6},{"x":5.85,"y":1.725,"v":-15.7},{"x":5.85,"y":1.875,"v":-15.9},{"x":5.85,"y":2.025,"v":-16},{"x":5.85,"y":2.175,"v":-16.1},{"x":5.85,"y":2.325,"v":-16.2},{"x":5.85,"y":2.475,"v":-16.3},{"x":5.85,"y":2.625,"v":-16.4},{"x":5.85,"y":2.775,"v":-16.4},{"x":5.85,"y":2.925,"v":-16.3}
]},
"config":{"view":{"stroke":"#999"},"axis":{"grid":false,"labelFont":"Open Sans","titleFont":"Open Sans","labelFontSize":15,"titleFontSize":16,"titleFontWeight":"normal","labelColor":"#444","titleColor":"#444","domainColor":"#888","tickColor":"#555","tickSize":3}},
"vconcat":[
{"spacing":41,"resolve":{"scale":{"color":"independent"},"legend":{"color":"independent"}},"vconcat":[
{"width":268,"height":133,
"encoding":{"x":{"field":"x","type":"quantitative","scale":{"domain":[0,6],"nice":false},"axis":{"values":[0,1.25,2.5,3.75,5],"format":".2~f","labelExpr":"datum.value==1.25||datum.value==3.75?'':datum.label","title":"Horizontal distance [km]","titleX":138,"titleY":25,"labelPadding":2}},"y":{"field":"y","type":"quantitative","scale":{"domain":[3,0],"nice":false},"axis":{"values":[1,2,3],"title":"Depth [km]","titleY":76,"titlePadding":12}}},
"layer":[
{"data":{"name":"temp"},"mark":{"type":"rect","width":17.5,"height":7.2,"clip":true},"encoding":{"color":{"field":"v","type":"quantitative","scale":{"domain":[22,98,177,230],"range":["#0b0000","#ff0000","#ffff00","#ffffff"],"interpolate":"rgb"},"legend":{"orient":"none","legendX":295,"legendY":-48,"gradientLength":229,"gradientThickness":5,"title":null,"values":[50,100,150,200],"format":"d","labelFont":"DejaVu Sans","labelFontSize":15.5,"labelColor":"#222","labelOffset":7,"gradientStrokeColor":"#333","gradientStrokeWidth":1,"encode":{"labels":{"update":{"baseline":{"value":"middle"}}}}}}}},
{"data":{"name":"wells"},"mark":{"type":"rule","color":"white","strokeWidth":3.5},"encoding":{"y2":{"field":"y2"}}},
{"data":{"values":[{"x":6.34,"y":-0.9,"t":"[℃]"}]},"mark":{"type":"text","align":"right","baseline":"middle","font":"Open Sans","fontSize":13,"color":"#333"},"encoding":{"text":{"field":"t"}}},
{"data":{"values":[{"x":-0.22,"y":-0.29,"t":"a. Temperature"}]},"mark":{"type":"text","align":"left","baseline":"alphabetic","font":"Liberation Sans","fontStyle":"italic","fontSize":20,"color":"#111"},"encoding":{"text":{"field":"t"}}}
]},
{"width":268,"height":134,
"encoding":{"x":{"field":"x","type":"quantitative","scale":{"domain":[0,6],"nice":false},"axis":{"values":[0,1.25,2.5,3.75,5],"format":".2~f","labelExpr":"datum.value==1.25||datum.value==3.75?'':datum.label","title":"Horizontal distance [km]","titleX":138,"titleY":25,"labelPadding":2}},"y":{"field":"y","type":"quantitative","scale":{"domain":[3,0],"nice":false},"axis":{"values":[1,2,3],"title":"Depth [km]","titleY":76,"titlePadding":12}}},
"layer":[
{"data":{"name":"pres"},"mark":{"type":"rect","width":268,"height":5,"clip":true},"encoding":{"color":{"field":"v","type":"quantitative","scale":{"domain":[0.05,3],"range":["#00ffff","#ff00ff"],"interpolate":"rgb"},"legend":{"orient":"none","legendX":295,"legendY":-47,"gradientLength":228,"gradientThickness":5,"title":null,"values":[0.5,1,1.5,2,2.5,3],"format":".1f","labelFont":"DejaVu Sans","labelFontSize":15.5,"labelColor":"#222","labelOffset":7,"gradientStrokeColor":"#333","gradientStrokeWidth":1,"encode":{"labels":{"update":{"baseline":{"value":"middle"}}}}}}}},
{"data":{"name":"wells"},"mark":{"type":"rule","color":"white","strokeWidth":3.5},"encoding":{"y2":{"field":"y2"}}},
{"data":{"values":[{"x":6.38,"y":-0.85,"t":"×10⁷ [Pa]"}]},"mark":{"type":"text","align":"right","baseline":"middle","font":"Open Sans","fontSize":13.5,"color":"#333"},"encoding":{"text":{"field":"t"}}},
{"data":{"values":[{"x":0.05,"y":-0.31,"t":"b. Pressure"}]},"mark":{"type":"text","align":"left","baseline":"alphabetic","font":"Liberation Sans","fontStyle":"italic","fontSize":20,"color":"#111"},"encoding":{"text":{"field":"t"}}}
]}
]},
{"width":268,"height":133,
"encoding":{"x":{"field":"x","type":"quantitative","scale":{"domain":[0,6],"nice":false},"axis":{"values":[0,1.25,2.5,3.75,5],"format":".2~f","labelExpr":"datum.value==1.25||datum.value==3.75?'':datum.label","title":"Horizontal distance [km]","titleX":138,"titleY":25,"labelPadding":2}},"y":{"field":"y","type":"quantitative","scale":{"domain":[3,0],"nice":false},"axis":{"values":[1,2,3],"title":"Depth [km]","titleY":76,"titlePadding":12}}},
"layer":[
{"data":{"name":"perm"},"mark":{"type":"rect","width":14,"height":7.2,"clip":true},"encoding":{"color":{"field":"v","type":"quantitative","scale":{"domain":[-18,-17.11,-16,-15.11,-14,-12.89,-12,-10.89,-10],"range":["#00007f","#0000ff","#0080ff","#00ffff","#7fff7f","#ffff00","#ff8000","#ff0000","#7f0000"],"interpolate":"rgb"},"legend":{"orient":"none","legendX":295,"legendY":-48,"gradientLength":229,"gradientThickness":5,"title":null,"values":[-18,-16,-14,-12,-10],"format":"d","labelFont":"DejaVu Sans","labelFontSize":15.5,"labelColor":"#222","labelOffset":7,"gradientStrokeColor":"#333","gradientStrokeWidth":1,"encode":{"labels":{"update":{"baseline":{"value":"middle"}}}}}}}},
{"data":{"name":"wells"},"mark":{"type":"rule","color":"white","strokeWidth":3.5},"encoding":{"y2":{"field":"y2"}}},
{"data":{"values":[{"x":6.4,"y":-0.86,"t":"log10 [m²]"}]},"mark":{"type":"text","align":"right","baseline":"middle","font":"Open Sans","fontSize":13.5,"color":"#333"},"encoding":{"text":{"field":"t"}}},
{"data":{"values":[{"x":0.05,"y":-0.36,"t":"c. Permeability"}]},"mark":{"type":"text","align":"left","baseline":"alphabetic","font":"Liberation Sans","fontStyle":"italic","fontSize":20,"color":"#111"},"encoding":{"text":{"field":"t"}}}
]}
]}
